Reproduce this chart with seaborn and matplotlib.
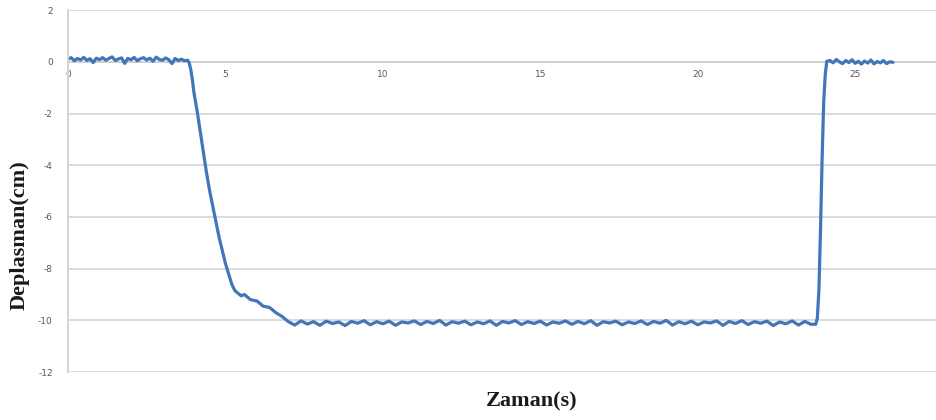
import numpy as np
import pandas as pd
import seaborn as sns
import matplotlib.pyplot as plt

# values (time in s, displacement in cm)
t_start = [0.0, 0.1, 0.2, 0.3, 0.4, 0.5, 0.6, 0.7, 0.8, 0.9, 1.0, 1.1, 1.2, 1.3,
           1.4, 1.5, 1.6, 1.7, 1.8, 1.9, 2.0, 2.1, 2.2, 2.3, 2.4, 2.5, 2.6, 2.7,
           2.8, 2.9, 3.0, 3.1, 3.2, 3.3, 3.4, 3.5, 3.6, 3.7, 3.8]
d_start = [0.10, 0.16, 0.04, 0.13, 0.07, 0.17, 0.05, 0.12, -0.03, 0.14, 0.08, 0.16,
           0.06, 0.13, 0.19, 0.05, 0.11, 0.15, -0.06, 0.13, 0.08, 0.17, 0.04, 0.12,
           0.16, 0.07, 0.14, 0.02, 0.18, 0.09, 0.06, 0.15, 0.08, -0.07, 0.13, 0.05,
           0.10, 0.04, 0.06]

t_drop = [3.85, 3.9, 3.95, 4.0, 4.1, 4.2, 4.3, 4.4, 4.5, 4.6, 4.7, 4.8, 4.9,
          5.0, 5.1, 5.2, 5.3, 5.4, 5.5, 5.6, 5.8, 6.0, 6.2, 6.4, 6.6, 6.8, 7.0]
d_drop = [-0.05, -0.3, -0.7, -1.2, -1.9, -2.7, -3.5, -4.3, -5.0, -5.6, -6.2,
          -6.8, -7.3, -7.8, -8.2, -8.6, -8.85, -8.95, -9.05, -9.0, -9.2, -9.25,
          -9.45, -9.5, -9.7, -9.85, -10.05]

t_hold = [7.2, 7.4, 7.6, 7.8, 8.0, 8.2, 8.4, 8.6, 8.8, 9.0, 9.2, 9.4, 9.6, 9.8,
          10.0, 10.2, 10.4, 10.6, 10.8, 11.0, 11.2, 11.4, 11.6, 11.8, 12.0, 12.2,
          12.4, 12.6, 12.8, 13.0, 13.2, 13.4, 13.6, 13.8, 14.0, 14.2, 14.4, 14.6,
          14.8, 15.0, 15.2, 15.4, 15.6, 15.8, 16.0, 16.2, 16.4, 16.6, 16.8, 17.0,
          17.2, 17.4, 17.6, 17.8, 18.0, 18.2, 18.4, 18.6, 18.8, 19.0, 19.2, 19.4,
          19.6, 19.8, 20.0, 20.2, 20.4, 20.6, 20.8, 21.0, 21.2, 21.4, 21.6, 21.8,
          22.0, 22.2, 22.4, 22.6, 22.8, 23.0, 23.2, 23.4, 23.6]
d_hold = [-10.18, -10.02, -10.14, -10.05, -10.19, -10.03, -10.12, -10.06, -10.20,
          -10.04, -10.11, -10.01, -10.17, -10.05, -10.13, -10.03, -10.19, -10.06,
          -10.10, -10.02, -10.16, -10.04, -10.12, -10.00, -10.18, -10.05, -10.11,
          -10.03, -10.17, -10.06, -10.13, -10.02, -10.19, -10.04, -10.10, -10.01,
          -10.16, -10.05, -10.12, -10.03, -10.18, -10.06, -10.11, -10.02, -10.15,
          -10.04, -10.13, -10.01, -10.19, -10.05, -10.10, -10.03, -10.17, -10.06,
          -10.12, -10.02, -10.16, -10.04, -10.11, -10.00, -10.18, -10.05, -10.13,
          -10.03, -10.17, -10.06, -10.10, -10.02, -10.19, -10.04, -10.12, -10.01,
          -10.16, -10.05, -10.11, -10.03, -10.20, -10.06, -10.13, -10.02, -10.18,
          -10.04, -10.15]

t_rise = [23.75, 23.8, 23.85, 23.9, 23.95, 24.0, 24.05, 24.1]
d_rise = [-10.15, -9.9, -8.8, -6.5, -3.8, -1.6, -0.5, 0.02]

t_end = [24.2, 24.3, 24.4, 24.5, 24.6, 24.7, 24.8, 24.9, 25.0, 25.1, 25.2, 25.3,
         25.4, 25.5, 25.6, 25.7, 25.8, 25.9, 26.0, 26.1, 26.2]
d_end = [0.05, -0.04, 0.09, 0.0, -0.07, 0.05, -0.03, 0.08, -0.06, 0.02, -0.09, 0.03,
         -0.05, 0.07, -0.08, 0.01, -0.04, 0.05, -0.07, 0.0, -0.02]

x_ticks = [0, 5, 10, 15, 20, 25]
y_ticks = [2, 0, -2, -4, -6, -8, -10, -12]

df = pd.DataFrame({
    "t": t_start + t_drop + t_hold + t_rise + t_end,
    "d": d_start + d_drop + d_hold + d_rise + d_end,
})

sns.set_style("white")
fig = plt.figure(figsize=(9.37, 4.2), dpi=100)
ax = fig.add_axes([0.0726, 0.114, 0.9274, 0.862])

sns.lineplot(data=df, x="t", y="d", sort=False, estimator=None,
             color="#4276ba", linewidth=2.3, ax=ax)

ax.set_xlim(0, 27.6)
ax.set_ylim(-12, 2)
ax.set_xticks(x_ticks)
ax.set_yticks(y_ticks)
ax.set_xticklabels([str(v) for v in x_ticks])
ax.set_yticklabels([str(v) for v in y_ticks])

ax.yaxis.grid(True, color="#d4d4d4", linewidth=1.2)
ax.set_axisbelow(True)
for s in ["top", "right"]:
    ax.spines[s].set_visible(False)
ax.spines["bottom"].set_position(("data", 0))
ax.spines["bottom"].set_color("#bdbdbd")
ax.spines["bottom"].set_linewidth(1.4)
ax.spines["left"].set_color("#d4d4d4")
ax.spines["left"].set_linewidth(1.4)
ax.spines["bottom"].set_zorder(0)

ax.tick_params(axis="x", direction="out", length=3, color="#bdbdbd",
               labelsize=6.5, labelcolor="#595959", pad=3)
ax.tick_params(axis="y", direction="out", length=3, color="#d4d4d4",
               labelsize=6.5, labelcolor="#595959", pad=8)

ax.set_xlabel("")
ax.set_ylabel("")
fig.text(0.567, 0.043, "Zaman(s)", ha="center", va="center",
         fontsize=16, fontweight="bold", family="Liberation Serif", color="#1a1a1a")
fig.text(0.021, 0.44, "Deplasman(cm)", ha="center", va="center", rotation=90,
         fontsize=16, fontweight="bold", family="Liberation Serif", color="#1a1a1a")

fig.savefig("out.png", dpi=100)
